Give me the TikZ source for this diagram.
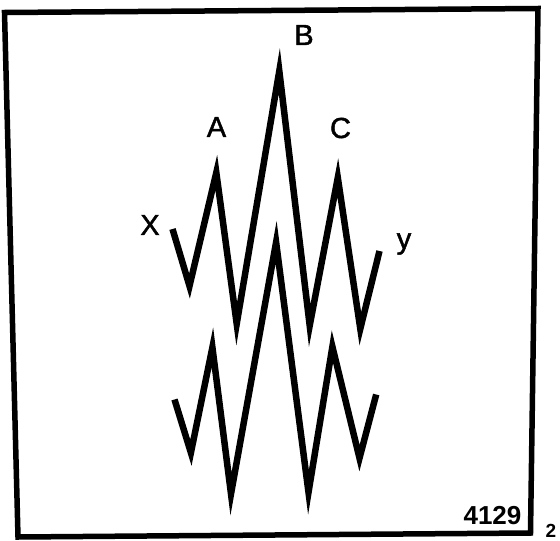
\documentclass[tikz,border=0pt]{standalone}
\usepackage{fontspec}
\setmainfont{Liberation Sans}
\newfontfamily\handfont[FakeBold=1.6]{Liberation Sans}

\begin{document}
\begin{tikzpicture}[x=1pt, y=-1pt,
  zig/.style={line width=6.5pt, line join=miter, miter limit=20},
  lbl/.style={font=\handfont\fontsize{29}{29}\selectfont, inner sep=0pt},
  num/.style={font=\bfseries\fontsize{26}{26}\selectfont, inner sep=0pt}]
  \useasboundingbox (0,0) rectangle (560,541);
  %% Frame
  \draw[line width=5.5pt, line join=miter]
    (4.5,12.5) -- (538,8.5) -- (530.5,533) -- (18,537) -- cycle;

  %% Upper zigzag, X to y
  \draw[zig] (172.5,229) -- (189.5,286) -- (216.3,172.6) -- (236.7,323.8)
    -- (279.3,71) -- (309.7,325.6) -- (337.8,177.7) -- (360.3,328.7)
    -- (379.5,251);
  %% Lower zigzag
  \draw[zig] (174.5,399.5) -- (190.9,452.7) -- (212.4,347.4) -- (231,493.9)
    -- (276.1,242.3) -- (308.5,492.3) -- (332.4,346.7) -- (359.5,458.1)
    -- (376.2,394.5);

  %% Labels
  \node[lbl] (lblX) at (150,225) {X};
  \node[lbl] (lblA) at (216.5,127) {A};
  \node[lbl] (lblB) at (304,35) {B};
  \node[lbl] (lblC) at (340.5,128) {C};
  \node[lbl] (lblY) at (404,244) {y};

  %% Figure number
  \node[num] (fignum) at (492.5,516) {4129};
  \node[num, font=\bfseries\fontsize{19}{19}\selectfont] (pagenum) at (551,530.5) {2};
\end{tikzpicture}
\end{document}
